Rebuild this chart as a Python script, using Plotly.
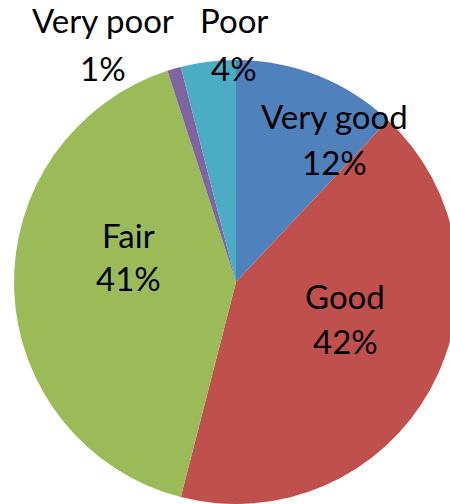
import plotly.graph_objects as go

labels = ["Very good", "Good", "Fair", "Very poor", "Poor"]
values = [12, 42, 41, 1, 4]
colors = ["#4F81BD", "#C0504D", "#9BBB59", "#8064A2", "#4BACC6"]

W, H = 460, 504
# pie geometry in pixels: centre (236, 282), radius 222
cx, cy, r = 236, 282, 222

fig = go.Figure(go.Pie(
    labels=labels,
    values=values,
    marker=dict(colors=colors, line=dict(width=0)),
    sort=False,
    direction="clockwise",
    rotation=0,
    textinfo="none",
    hoverinfo="label+percent",
    domain=dict(x=[(cx - r) / W, (cx + r) / W], y=[(H - cy - r) / H, (H - cy + r) / H]),
))

# label anchor positions (pixel centres for the two lines of each label)
label_pos = {
    "Very good": (334, 116, 162),
    "Good": (345, 296, 341),
    "Fair": (128, 235, 278),
    "Very poor": (103, 20, 68),
    "Poor": (234, 20, 68),
}
total = sum(values)
font = dict(family="Lato, Calibri, sans-serif", size=33, color="black")
annotations = []
for lab, val in zip(labels, values):
    x, y1, y2 = label_pos[lab]
    for txt, yy in ((lab, y1), (f"{round(val / total * 100)}%", y2)):
        annotations.append(dict(
            text=txt, x=x / W, y=1 - yy / H, xref="paper", yref="paper",
            xanchor="center", yanchor="middle", showarrow=False, font=font,
        ))

fig.update_layout(
    width=W, height=H,
    margin=dict(l=0, r=0, t=0, b=0),
    showlegend=False,
    paper_bgcolor="white",
    plot_bgcolor="white",
    annotations=annotations,
)

fig.write_html(
    "out.html",
    config={"displayModeBar": False},
    post_script="document.documentElement.style.overflow='hidden';document.body.style.overflow='hidden';document.body.style.margin='0';",
)
